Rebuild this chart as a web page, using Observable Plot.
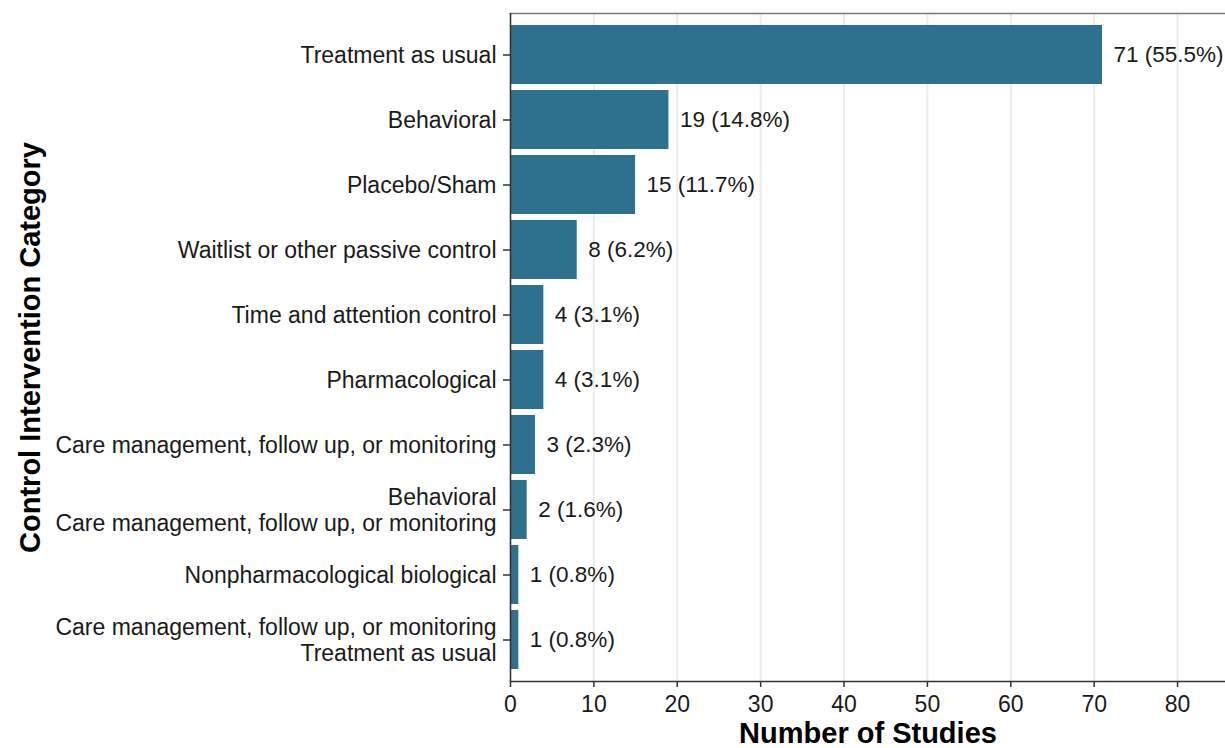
<!DOCTYPE html>
<html>
<head>
<meta charset="utf-8">
<script src="https://cdn.jsdelivr.net/npm/d3@7"></script>
<script src="https://cdn.jsdelivr.net/npm/@observablehq/plot@0.6"></script>
<style>
  html, body { margin: 0; padding: 0; background: #fff; }
  svg { font-family: "Liberation Sans", Arial, sans-serif; }
</style>
</head>
<body>
<div id="chart"></div>
<script>
const categories = [
  "Treatment as usual",
  "Behavioral",
  "Placebo/Sham",
  "Waitlist or other passive control",
  "Time and attention control",
  "Pharmacological",
  "Care management, follow up, or monitoring",
  "Behavioral\nCare management, follow up, or monitoring",
  "Nonpharmacological biological",
  "Care management, follow up, or monitoring\nTreatment as usual"
];
const counts = [71, 19, 15, 8, 4, 4, 3, 2, 1, 1];
const percents = ["55.5", "14.8", "11.7", "6.2", "3.1", "3.1", "2.3", "1.6", "0.8", "0.8"];
const xTicks = [0, 10, 20, 30, 40, 50, 60, 70, 80];
const xMax = 85.75;
const xTitle = "Number of Studies";
const yTitle = "Control Intervention Category";

const data = categories.map((c, i) => ({
  category: c,
  count: counts[i],
  label: `${counts[i]} (${percents[i]}%)`
}));

const chart = Plot.plot({
  width: 1225,
  height: 748,
  marginLeft: 510,
  marginRight: 0,
  marginTop: 13,
  marginBottom: 67,
  style: { fontFamily: '"Liberation Sans", Arial, sans-serif', fontSize: "23px", color: "#1a1a1a", background: "#fff" },
  x: { domain: [0, xMax] },
  y: { domain: categories, paddingInner: 0.1, paddingOuter: 0.15 },
  marks: [
    Plot.gridX(xTicks, { stroke: "#ebebeb", strokeOpacity: 1, strokeWidth: 2 }),
    Plot.barX(data, { y: "category", x: "count", fill: "#2d718f" }),
    Plot.text(data, { y: "category", x: "count", text: "label", textAnchor: "start", dx: 11, fontSize: 22.5, fill: "#1a1a1a" }),
    Plot.frame({ anchor: "top", stroke: "#777", strokeWidth: 1.5 }),
    Plot.frame({ anchor: "bottom", stroke: "#333", strokeWidth: 1.5 }),
    Plot.ruleX([0], { stroke: "#333", strokeWidth: 1.5 }),
    Plot.axisX({ ticks: xTicks, tickSize: 6, tickPadding: 8, fontSize: 23, label: null, stroke: "#333", strokeWidth: 1.5, fill: "#1a1a1a" }),
    Plot.axisY({ tickSize: 7, tickPadding: 7, fontSize: 23, label: null, lineHeight: 1.12, stroke: "#333", strokeWidth: 1.5, fill: "#1a1a1a" }),
    Plot.text([xTitle], { frameAnchor: "bottom", dy: 52, fontSize: 29, fontWeight: "bold", textAnchor: "middle", lineAnchor: "middle", fill: "#000" }),
    Plot.text([yTitle], { frameAnchor: "left", dx: -480, rotate: -90, fontSize: 29, fontWeight: "bold", textAnchor: "middle", lineAnchor: "middle", fill: "#000" })
  ]
});
document.getElementById("chart").appendChild(chart);
</script>
</body>
</html>
